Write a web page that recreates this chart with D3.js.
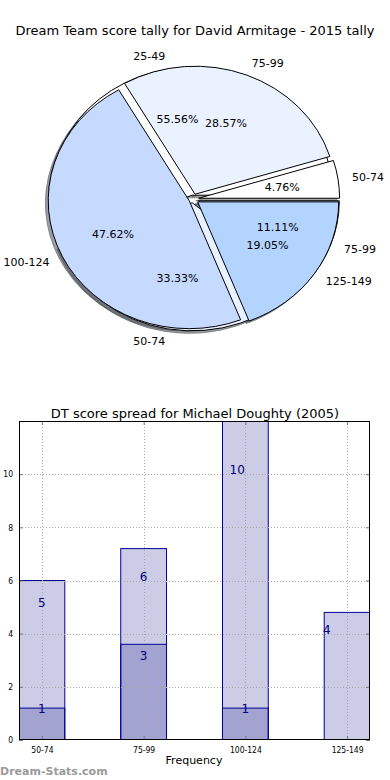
<!DOCTYPE html>
<html>
<head>
<meta charset="utf-8">
<script src="https://cdn.jsdelivr.net/npm/d3@7"></script>
<style>
  body { margin: 0; background: #fff; }
  svg { display: block; font-family: "DejaVu Sans", sans-serif; }
</style>
</head>
<body>
<div id="chart"></div>
<script>
// Part 1: data
// ==============================
// pie drawn first (ends up mostly hidden behind the second one)
var tallyRangesA = ["25-49", "50-74", "75-99"];
var tallyCountsA = [5, 3, 1];
// second pie, drawn on top
var tallyRangesB = ["50-74", "75-99", "100-124", "125-149"];
var tallyCountsB = [1, 6, 10, 4];

// bar chart
var barCats = ["50-74", "75-99", "100-124", "125-149"];
var barTall = [6, 7.2, 12, 4.8];      // light bar heights as drawn
var barShort = [1.2, 3.6, 1.2, 0];    // dark bar heights as drawn
var tallLabels = [5, 6, 10, 4];
var shortLabels = [1, 3, 1, null];
var yTicks = [0, 2, 4, 6, 8, 10];

// styles
var coloursA = ["#ffffff", "#eaf2ff", "#c6d9fe"];
var coloursB = ["#ffffff", "#eaf2ff", "#c6d9fe", "#b3d4ff"];
var explodeA = [0.03, 0.03, 0.04];
var explodeB = [0.04, 0.04, 0.03, 0.04];
var tallLabelShift = [0, 0, -0.08, -0.2];

var svgWidth = 390, svgHeight = 780;
var svg = d3.select("#chart").append("svg")
  .attr("width", svgWidth)
  .attr("height", svgHeight);

// Part 2: pies
// ==============================
svg.append("text")
  .attr("x", 195).attr("y", 35)
  .attr("text-anchor", "middle")
  .style("font-size", "13px")
  .text("Dream Team score tally for David Armitage - 2015 tally");

var pieCx = 193, pieCy = 199, rx = 141, ry = 128;

// matplotlib style: start at 3 o'clock, go counter-clockwise
var pieLayout = d3.pie().sort(null)
  .startAngle(Math.PI / 2)
  .endAngle(Math.PI / 2 - 2 * Math.PI);
var unitArc = d3.arc().innerRadius(0).outerRadius(1);

function buildWedges(labels, counts, colours, explode) {
  var total = d3.sum(counts);
  return pieLayout(counts).map(function(d, i) {
    var mid = (d.startAngle + d.endAngle) / 2;
    return {
      arc: d,
      label: labels[i],
      pct: (counts[i] / total * 100).toFixed(2) + "%",
      colour: colours[i],
      ux: Math.sin(mid),
      uy: -Math.cos(mid),
      ex: explode[i]
    };
  });
}

var wedgesA = buildWedges(tallyRangesA, tallyCountsA, coloursA, explodeA);
var wedgesB = buildWedges(tallyRangesB, tallyCountsB, coloursB, explodeB);

function px(w, r) { return pieCx + rx * (w.ex * w.ux + r * w.ux); }
function py(w, r) { return pieCy + ry * (w.ex * w.uy + r * w.uy); }

function shadowColour(c) {
  var rgb = d3.rgb(c);
  return "rgba(" + Math.round(rgb.r * 0.3) + "," + Math.round(rgb.g * 0.3) + "," + Math.round(rgb.b * 0.3) + ",0.5)";
}

var pieGroup = svg.append("g");

// shadows go underneath every wedge
var allWedges = wedgesA.concat(wedgesB);
pieGroup.selectAll("path.shadow")
  .data(allWedges)
  .enter()
  .append("path")
  .attr("class", "shadow")
  .attr("d", d => unitArc(d.arc))
  .attr("transform", d => `translate(${px(d, 0) - 0.02 * rx}, ${py(d, 0) + 0.02 * ry}) scale(${rx}, ${ry})`)
  .attr("fill", d => shadowColour(d.colour))
  .attr("stroke", d => shadowColour(d.colour))
  .attr("vector-effect", "non-scaling-stroke");

function drawWedges(wedges, cls) {
  pieGroup.selectAll("path." + cls)
    .data(wedges)
    .enter()
    .append("path")
    .attr("class", cls)
    .attr("d", d => unitArc(d.arc))
    .attr("transform", d => `translate(${px(d, 0)}, ${py(d, 0)}) scale(${rx}, ${ry})`)
    .attr("fill", d => d.colour)
    .attr("stroke", "#000")
    .attr("stroke-width", 1)
    .attr("stroke-linejoin", "miter")
    .attr("vector-effect", "non-scaling-stroke");
}
drawWedges(wedgesA, "wedgeA");
drawWedges(wedgesB, "wedgeB");

// labels at 1.1 radius, percentages at 0.6
pieGroup.selectAll("text.slabel")
  .data(allWedges)
  .enter()
  .append("text")
  .attr("class", "slabel")
  .attr("x", d => px(d, 1.1))
  .attr("y", d => py(d, 1.1))
  .attr("dy", "0.35em")
  .attr("text-anchor", d => d.ux > 0 ? "start" : "end")
  .style("font-size", "11px")
  .text(d => d.label);

pieGroup.selectAll("text.pct")
  .data(allWedges)
  .enter()
  .append("text")
  .attr("class", "pct")
  .attr("x", d => px(d, 0.6))
  .attr("y", d => py(d, 0.6))
  .attr("dy", "0.35em")
  .attr("text-anchor", "middle")
  .style("font-size", "11px")
  .text(d => d.pct);

// Part 3: bar chart
// ==============================
var margin = { left: 19, right: 20, top: 421, bottom: 40 };
var plotRight = svgWidth - margin.right;
var plotBottom = svgHeight - margin.bottom;

var xScale = d3.scaleLinear().domain([-0.225, 3.225]).range([margin.left, plotRight]);
var yScale = d3.scaleLinear().domain([0, 12]).range([plotBottom, margin.top]);
var barW = xScale(0.45) - xScale(0);

svg.append("text")
  .attr("x", 195).attr("y", 418)
  .attr("text-anchor", "middle")
  .style("font-size", "13px")
  .text("DT score spread for Michael Doughty (2005)");

svg.append("clipPath").attr("id", "plotClip")
  .append("rect")
  .attr("x", margin.left).attr("y", margin.top)
  .attr("width", plotRight - margin.left)
  .attr("height", plotBottom - margin.top);

var barGroup = svg.append("g").attr("clip-path", "url(#plotClip)");

barGroup.selectAll("rect.tall")
  .data(barTall)
  .enter()
  .append("rect")
  .attr("class", "tall")
  .attr("x", (d, i) => xScale(i) - barW / 2)
  .attr("y", d => yScale(d))
  .attr("width", barW)
  .attr("height", d => yScale(0) - yScale(d))
  .attr("fill", "rgba(0,0,128,0.2)")
  .attr("stroke", "#000099")
  .attr("stroke-width", 1);

barGroup.selectAll("rect.short")
  .data(barShort.filter(d => d > 0))
  .enter()
  .append("rect")
  .attr("class", "short")
  .attr("x", (d, i) => xScale(i) - barW / 2)
  .attr("y", d => yScale(d))
  .attr("width", barW)
  .attr("height", d => yScale(0) - yScale(d))
  .attr("fill", "rgba(0,0,128,0.2)")
  .attr("stroke", "#000099")
  .attr("stroke-width", 1);

// dotted grid, on top of the bars
var gridGroup = svg.append("g")
  .attr("stroke", "#a8a8a8")
  .attr("stroke-dasharray", "1,2")
  .attr("stroke-width", 1);
gridGroup.selectAll("line.gx")
  .data(barCats)
  .enter()
  .append("line")
  .attr("x1", (d, i) => Math.round(xScale(i)) + 0.5)
  .attr("x2", (d, i) => Math.round(xScale(i)) + 0.5)
  .attr("y1", margin.top)
  .attr("y2", plotBottom);
gridGroup.selectAll("line.gy")
  .data(yTicks.slice(1))
  .enter()
  .append("line")
  .attr("x1", margin.left)
  .attr("x2", plotRight)
  .attr("y1", d => Math.round(yScale(d)) + 0.5)
  .attr("y2", d => Math.round(yScale(d)) + 0.5);

// bar value labels
svg.selectAll("text.tallLabel")
  .data(tallLabels)
  .enter()
  .append("text")
  .attr("class", "tallLabel")
  .attr("x", (d, i) => xScale(i + tallLabelShift[i]))
  .attr("y", d => yScale(d))
  .attr("text-anchor", "middle")
  .attr("fill", "#000080")
  .style("font-size", "12px")
  .text(d => d);

svg.selectAll("text.shortLabel")
  .data(shortLabels)
  .enter()
  .filter(d => d !== null)
  .append("text")
  .attr("class", "shortLabel")
  .attr("x", (d, i) => xScale(i))
  .attr("y", d => yScale(d))
  .attr("text-anchor", "middle")
  .attr("fill", "#000080")
  .style("font-size", "12px")
  .text(d => d);

// axes with inward ticks
var leftAxis = d3.axisLeft(yScale).tickValues(yTicks).tickSize(-4).tickPadding(6);
var rightAxis = d3.axisRight(yScale).tickValues(yTicks).tickSize(-4).tickFormat("");
var bottomAxis = d3.axisBottom(xScale).tickValues([0, 1, 2, 3]).tickSize(-4).tickPadding(7)
  .tickFormat(i => barCats[i]);
var topAxis = d3.axisTop(xScale).tickValues([0, 1, 2, 3]).tickSize(-4).tickFormat("");

function styleAxis(g) {
  g.select(".domain").remove();
  g.selectAll("line").attr("stroke", "#777");
  g.selectAll("text")
    .style("font-family", "'DejaVu Sans Condensed', 'DejaVu Sans', sans-serif")
    .style("font-size", "8.5px")
    .attr("fill", "#000");
}

svg.append("g").attr("transform", `translate(${margin.left},0)`).call(leftAxis).call(styleAxis);
svg.append("g").attr("transform", `translate(${plotRight},0)`).call(rightAxis).call(styleAxis);
svg.append("g").attr("transform", `translate(0,${plotBottom})`).call(bottomAxis).call(styleAxis);
svg.append("g").attr("transform", `translate(0,${margin.top})`).call(topAxis).call(styleAxis);

svg.append("rect")
  .attr("x", margin.left + 0.5).attr("y", margin.top + 0.5)
  .attr("width", plotRight - margin.left - 1)
  .attr("height", plotBottom - margin.top - 1)
  .attr("fill", "none")
  .attr("stroke", "#000")
  .attr("stroke-width", 1);

svg.append("text")
  .attr("x", 194).attr("y", 764)
  .attr("text-anchor", "middle")
  .style("font-size", "11px")
  .text("Frequency");

svg.append("text")
  .attr("x", 0).attr("y", 775)
  .attr("fill", "#9a9a9a")
  .style("font-size", "11px")
  .style("font-weight", "bold")
  .text("Dream-Stats.com");
</script>
</body>
</html>
